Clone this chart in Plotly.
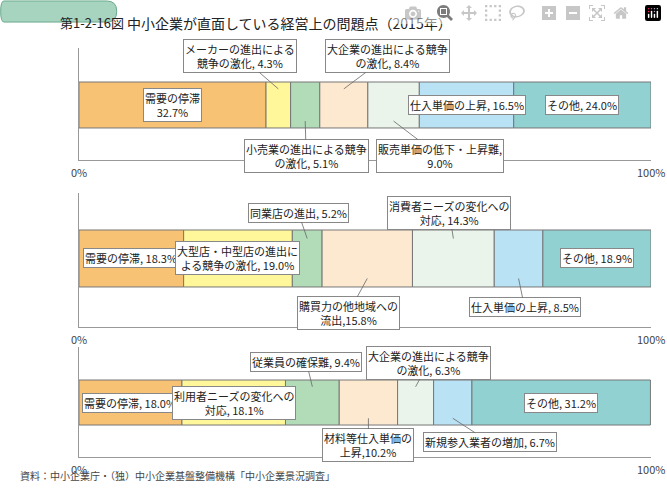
import plotly.graph_objects as go

# Data
sectors = ["卸売業", "小売業", "サービス業"]

wholesale_labels = ["需要の停滞<br>32.7%", "メーカーの進出による<br>競争の激化, 4.3%", "小売業の進出による競争<br>の激化, 5.1%",
                    "大企業の進出による競争<br>の激化, 8.4%", "販売単価の低下・上昇難,<br>9.0%", "仕入単価の上昇, 16.5%", "その他, 24.0%"]
wholesale_values = [32.7, 4.3, 5.1, 8.4, 9.0, 16.5, 24.0]

retail_labels = ["需要の停滞, 18.3%", "大型店・中型店の進出に<br>よる競争の激化, 19.0%", "同業店の進出, 5.2%",
                 "購買力の他地域への<br>流出,15.8%", "消費者ニーズの変化への<br>対応, 14.3%", "仕入単価の上昇, 8.5%", "その他, 18.9%"]
retail_values = [18.3, 19.0, 5.2, 15.8, 14.3, 8.5, 18.9]

service_labels = ["需要の停滞, 18.0%", "利用者ニーズの変化への<br>対応, 18.1%", "従業員の確保難, 9.4%",
                  "材料等仕入単価の<br>上昇,10.2%", "大企業の進出による競争<br>の激化, 6.3%", "新規参入業者の増加, 6.7%", "その他, 31.2%"]
service_values = [18.0, 18.1, 9.4, 10.2, 6.3, 6.7, 31.2]

# Style / placement
colors = ["#f8c275", "#fff799", "#b2dbb8", "#fde9d0", "#eaf4ea", "#b9e2f5", "#92d1d2"]
FONT = "Noto Sans CJK JP"

# label placement per segment: None = inside, otherwise (side, ax, ay) pixel offsets
wholesale_pos = [None, ("top", -38, -33), ("bot", 1, 35), ("top", 44, -33), ("bot", 46, 35), None, None]
retail_pos = [None, None, ("top", -9, -26), ("bot", -19, 35), ("top", -4, -26), ("bot", 6, 29), None]
service_pos = [None, None, ("top", -6, -25), ("bot", 0, 27), ("top", 13, -24), ("bot", 37, 24), None]

panels = [
    (wholesale_labels, wholesale_values, wholesale_pos, [0.6735, 0.9020], [-1.196, 1.239]),
    (retail_labels, retail_values, retail_pos, [0.3327, 0.6061], [-1.202, 1.149]),
    (service_labels, service_values, service_pos, [0.0673, 0.2918], [-1.211, 1.233]),
]

fig = go.Figure()
annotations = []
layout = {}

for i, (labels, values, pos, dom, rng) in enumerate(panels):
    n = "" if i == 0 else str(i + 1)
    xa, ya = "x" + n, "y" + n
    start = 0
    for j, v in enumerate(values):
        fig.add_trace(go.Bar(x=[v], y=[0], base=[start], orientation="h", width=1,
                             marker=dict(color=colors[j], line=dict(color="#777", width=1)),
                             xaxis=xa, yaxis=ya, showlegend=False, hoverinfo="skip"))
        mid = start + v / 2
        p = pos[j]
        ann = dict(x=mid, y=0, xref=xa, yref=ya, text=labels[j], showarrow=False,
                   bgcolor="white", bordercolor="#888", borderwidth=1, borderpad=1,
                   font=dict(family=FONT, size=11, color="#222"))
        if p is not None:
            side, ax, ay = p
            ann.update(y=0.35 if side == "top" else -0.35, showarrow=True, arrowhead=0,
                       arrowwidth=0.8, arrowcolor="#666", ax=ax, ay=ay)
        annotations.append(ann)
        start += v

    layout["xaxis" + n] = dict(domain=[0.1184, 0.976], range=[0, 100], anchor=ya, showline=True,
                               linecolor="#999", showgrid=False, zeroline=False, ticks="inside",
                               tickvals=[100], ticklen=4, tickcolor="#999", showticklabels=False)
    layout["yaxis" + n] = dict(domain=dom, range=rng, anchor=xa, showline=True, linecolor="#999",
                               showgrid=False, zeroline=False, showticklabels=False)
    annotations.append(dict(x=-0.04, y=0, xref=xa, yref=ya, text=sectors[i], showarrow=False,
                            xanchor="right", font=dict(family=FONT, size=11, color="#222")))
    for t, xv in [("0%", 0), ("100%", 100)]:
        annotations.append(dict(x=xv, y=dom[0], xref=xa, yref="paper", yanchor="top", yshift=-2,
                                text=t, showarrow=False, font=dict(family=FONT, size=11, color="#444")))

annotations.append(dict(x=58 / 667, y=1 - 11.5 / 490, xref="paper", yref="paper", text="第1-2-16図",
                        showarrow=False, font=dict(family=FONT, size=13, color="#222")))
annotations.append(dict(x=125 / 667, y=1 - 11.5 / 490, xref="paper", yref="paper", xanchor="left",
                        text="中小企業が直面している経営上の問題点（2015年）", showarrow=False,
                        font=dict(family=FONT, size=14, color="#222")))
annotations.append(dict(x=18 / 667, y=1 - 485 / 490, xref="paper", yref="paper", xanchor="left",
                        text="資料：中小企業庁・（独）中小企業基盤整備機構「中小企業景況調査」", showarrow=False,
                        font=dict(family=FONT, size=10, color="#444")))

fig.update_layout(
    width=667, height=490, margin=dict(l=0, r=0, t=0, b=0),
    plot_bgcolor="white", paper_bgcolor="white", barmode="overlay",
    annotations=annotations,
    shapes=[dict(type="path", xref="paper", yref="paper",
                 path="M 0.006,0.998 L 0.160,0.998 Q 0.175,0.998 0.175,0.977 Q 0.175,0.955 0.160,0.955 "
                      "L 0.006,0.955 Q 0.001,0.955 0.001,0.977 Q 0.001,0.998 0.006,0.998 Z",
                 fillcolor="#a6d4bf", line=dict(color="#6aaa8c", width=1), layer="below")],
    **layout,
)

fig.write_html("out.html", post_script="document.body.style.margin='0';")
